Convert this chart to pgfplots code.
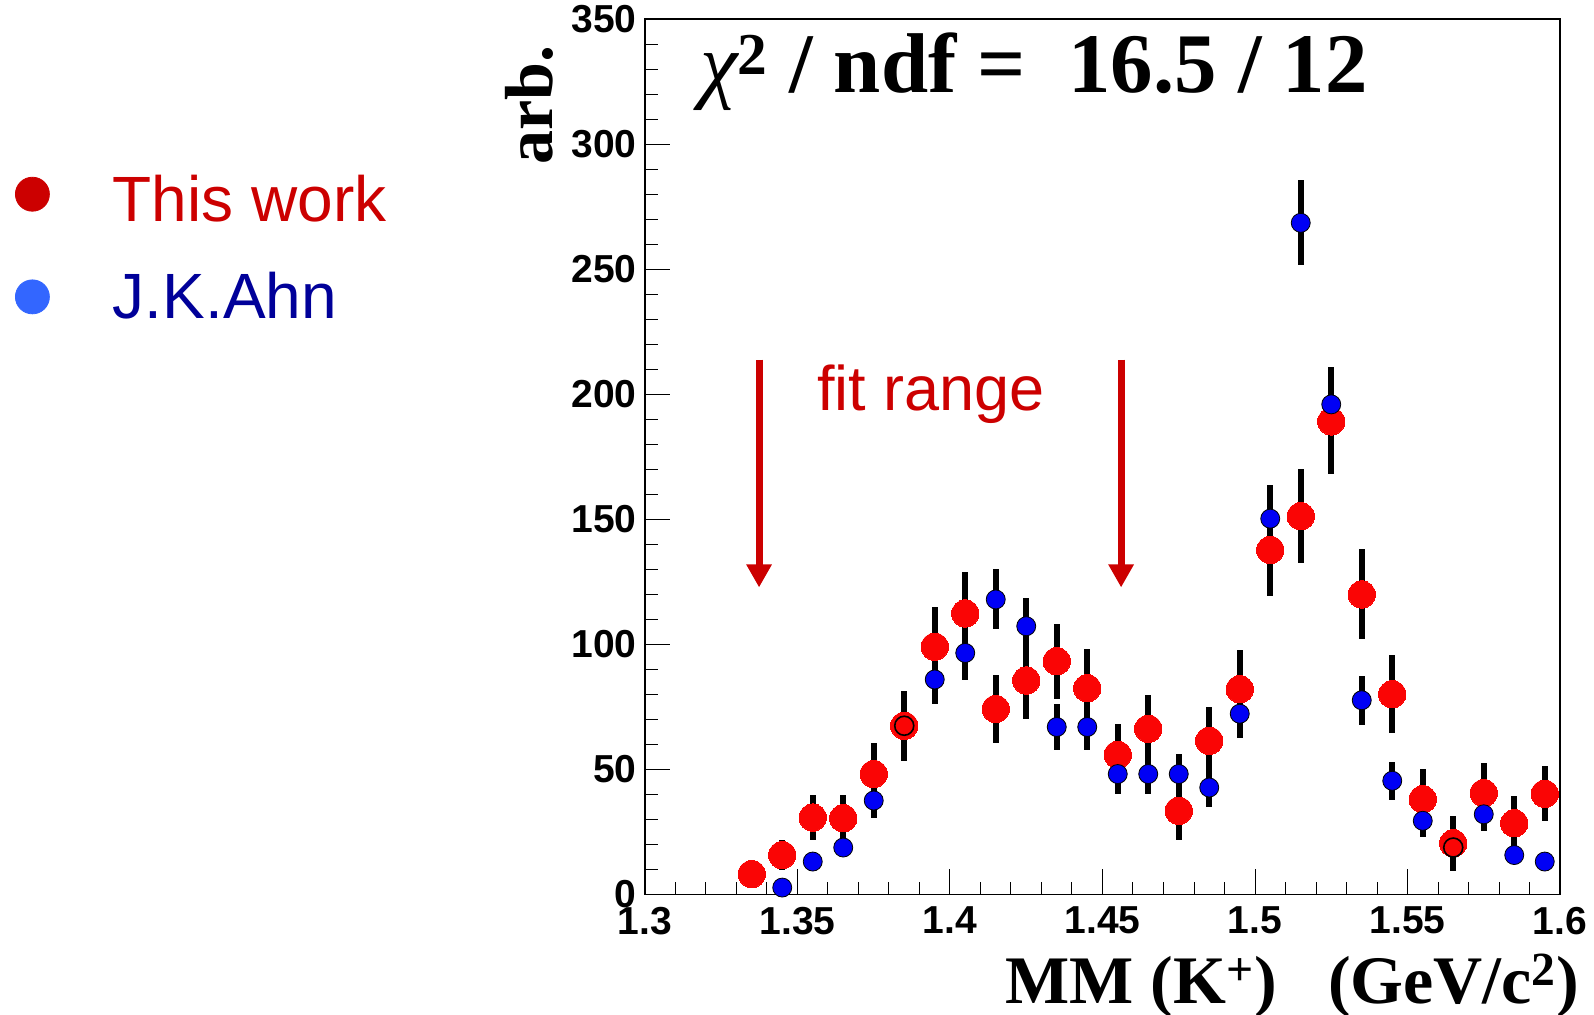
\documentclass[border=0pt]{standalone}
\usepackage{pgfplots}
\pgfplotsset{compat=1.18}
\usepackage{pgfplotstable}
\usetikzlibrary{arrows.meta}
\usepackage{fontspec}
\setmainfont{Liberation Sans}
\newfontfamily\tms{Liberation Serif}
\definecolor{pred}{RGB}{250,5,5}
\definecolor{pblue}{RGB}{0,0,245}
\definecolor{legred}{RGB}{204,0,0}
\definecolor{legblue}{RGB}{51,102,255}
\definecolor{legbluetext}{RGB}{0,0,153}

\pgfplotstableread{
x y e
1.335 8.1 4
1.345 15.7 6
1.355 30.7 9
1.365 30.4 9.5
1.375 48.1 12.6
1.385 67.4 14
1.395 99.0 16
1.405 112.3 16.6
1.415 74.1 13.7
1.425 85.5 15.6
1.435 93.2 15
1.445 82.4 15.5
1.455 55.8 12.3
1.465 66.2 13.6
1.475 33.4 11.6
1.485 61.4 13.5
1.495 82.0 15.5
1.505 137.7 18.5
1.515 151.2 18.8
1.525 189.1 21
1.535 119.9 18
1.545 80.0 15.5
1.555 38.0 12
1.565 20.4 11
1.575 40.5 12
1.585 28.4 11
1.595 40.2 11
}\thiswork

\pgfplotstableread{
x y e c
1.345 2.7 2 a
1.355 13.1 3 a
1.365 18.7 3.5 a
1.375 37.5 7 a
1.385 67.4 9 b
1.395 85.9 10 a
1.405 96.5 11 a
1.415 117.9 12 a
1.425 107.2 11.4 a
1.435 66.9 9.2 a
1.445 66.9 9.2 a
1.455 48.1 8 a
1.465 48.1 8 a
1.475 48.1 8 a
1.485 42.7 7.7 a
1.495 72.2 9.5 a
1.505 150.2 13.4 a
1.515 268.5 17 a
1.525 195.9 15 a
1.535 77.6 9.7 a
1.545 45.4 7.7 a
1.555 29.4 6.3 a
1.565 18.7 5 b
1.575 32.0 6.5 a
1.585 15.7 3 a
1.595 13.1 3 a
}\ahn

\begin{document}
\begin{tikzpicture}
\begin{axis}[
  name=ax,
  scale only axis,
  width=457.5pt, height=437.65pt,
  xmin=1.3, xmax=1.6, ymin=0, ymax=350,
  clip=false,
  axis line style={line width=0.7pt},
  tick align=inside,
  xtick pos=bottom, ytick pos=left,
  xtick={1.3,1.35,1.4,1.45,1.5,1.55,1.6},
  xticklabels={1.3,1.35,1.4,1.45,1.5,1.55,1.6},
  ytick={0,50,100,150,200,250,300,350},
  yticklabels={0,50,100,150,200,250,300,350},
  minor x tick num=4, minor y tick num=4,
  major tick length=12.5pt, minor tick length=6.35pt,
  tick style={line width=0.5pt, black},
  xticklabel style={font=\fontsize{19.5}{22}\selectfont\bfseries, inner sep=0pt, yshift=-6.2pt},
  yticklabel style={font=\fontsize{19.5}{22}\selectfont\bfseries, inner sep=0pt, xshift=-4pt},
  xlabel={MM (K\textsuperscript{+})\hspace{25.5pt}(GeV/c\textsuperscript{2})},
  xlabel style={at={(rel axis cs:0,0)}, anchor=base west, xshift=180pt, yshift=-54.5pt, inner sep=0pt, font=\tms\fontsize{34}{40}\selectfont\bfseries},
  ylabel={arb.},
  ylabel style={at={(rel axis cs:-0.10055,0.8332)}, anchor=base west, inner sep=0pt, font=\tms\fontsize{34}{40}\selectfont\bfseries},
  legend style={at={(rel axis cs:-0.6885,0.8212)}, anchor=north west, draw=none, fill=none, inner sep=0pt, outer sep=0pt, nodes={inner sep=0pt}, row sep=23.65pt, /tikz/every odd column/.append style={column sep=31.5pt}, font=\fontsize{32}{38}\selectfont},
  legend cell align=left,
]
\addlegendimage{legend image code/.code={\fill[legred] (8.5pt,3pt) circle (8.5pt);}}
\addlegendentry{\textcolor{legred}{This work}}
\addlegendimage{legend image code/.code={\fill[legblue] (8.5pt,0pt) circle (8.5pt);}}
\addlegendentry{\textcolor{legbluetext}{J.K.Ahn}}

\addplot[forget plot, color=pred, only marks, mark=*, mark size=6.85pt, mark options={fill=pred, draw=pred, line width=0pt},
  error bars/.cd, y dir=both, y explicit, error bar style={line width=3pt, black}, error mark=none]
  table[x=x, y=y, y error=e] {\thiswork};

\addplot[forget plot, only marks, mark=*, mark size=4.75pt,
  scatter, scatter src=explicit symbolic,
  scatter/classes={a={draw=black, fill=pblue, line width=0.4pt}, b={draw=black, fill=pred, line width=0.8pt}},
  error bars/.cd, y dir=both, y explicit, error bar style={line width=3pt, black}, error mark=none]
  table[x=x, y=y, y error=e, meta=c] {\ahn};

\draw[legred, line width=3.5pt, -{Triangle[width=12pt,length=11.5pt]}] (axis cs:1.3374,213.8) -- (axis cs:1.3374,122.7);
\draw[legred, line width=3.5pt, -{Triangle[width=12pt,length=11.5pt]}] (axis cs:1.4561,213.8) -- (axis cs:1.4561,122.7);
\node[anchor=base west, inner sep=0pt, text=legred, font=\fontsize{31.5}{36}\selectfont] at (axis cs:1.3563,193.6) {fit range};
\node[anchor=base west, inner sep=0pt, font=\tms\fontsize{42.4}{48}\selectfont\bfseries] at (rel axis cs:0.0598,0.9155) {{\mdseries\itshape χ}\textsuperscript{2} / ndf =\ \ 16.5 / 12};
\end{axis}
\pgfresetboundingbox
\path ([shift={(-322.5pt,-59.85pt)}]ax.south west) rectangle ([shift={(17pt,9.5pt)}]ax.north east);
\end{tikzpicture}
\end{document}
